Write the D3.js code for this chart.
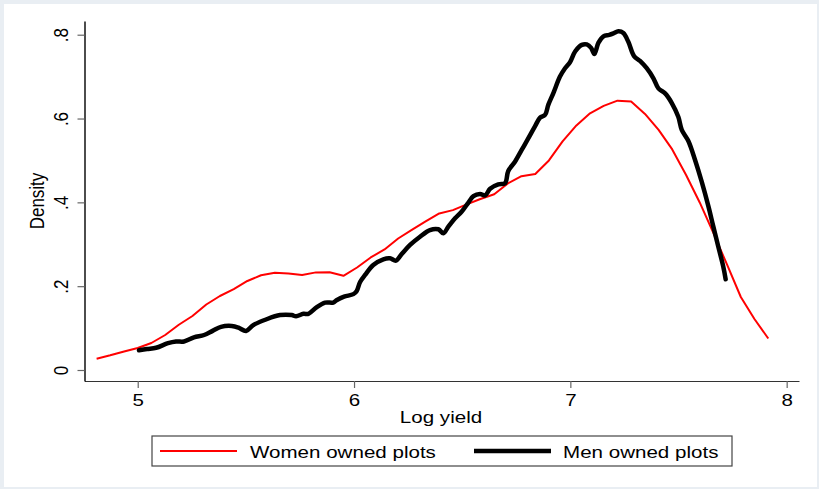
<!DOCTYPE html>
<html>
<head>
<meta charset="utf-8">
<script src="https://cdn.jsdelivr.net/npm/d3@7"></script>
<style>
  html, body { margin: 0; padding: 0; background: #e9eef3; }
  svg { display: block; font-family: "Liberation Sans", Arial, sans-serif; }
</style>
</head>
<body>
<svg id="chart" width="819" height="489"></svg>
<script>
// Kernel density of log yield, women vs men owned plots
const womenX = [4.810,4.873,4.937,5.000,5.063,5.127,5.190,5.253,5.317,5.380,
                5.444,5.507,5.570,5.634,5.697,5.760,5.824,5.887,5.951,6.014,
                6.077,6.141,6.204,6.267,6.331,6.394,6.457,6.521,6.584,6.648,
                6.711,6.774,6.838,6.901,6.964,7.028,7.091,7.154,7.218,7.281,
                7.345,7.408,7.471,7.535,7.598,7.661,7.725,7.788,7.851,7.915];
const womenY = [0.027,0.035,0.044,0.0525,0.0644,0.0835,0.1079,0.1289,0.1563,0.1766,
                0.1928,0.2124,0.226,0.232,0.2305,0.2267,0.2329,0.2334,0.2248,0.2446,
                0.2685,0.2876,0.3138,0.3341,0.3544,0.3735,0.3814,0.395,0.4081,0.4193,
                0.4451,0.4625,0.4678,0.500,0.5453,0.5835,0.6124,0.6301,0.6427,0.6406,
                0.611,0.5728,0.5263,0.4654,0.3998,0.327,0.2506,0.1742,0.1217,0.0752];

const menX = [5.006,5.043,5.085,5.140,5.177,5.214,5.260,5.307,5.348,5.385,
              5.435,5.466,5.501,5.534,5.593,5.658,5.712,5.732,5.766,5.789,
              5.828,5.866,5.904,5.921,5.954,5.997,6.0125,6.028,6.051,6.089,
              6.1355,6.166,6.194,6.2205,6.259,6.305,6.351,6.390,6.413,6.436,
              6.467,6.498,6.528,6.552,6.5825,6.606,6.629,6.667,6.698,6.713,
              6.744,6.775,6.806,6.837,6.860,6.883,6.898,6.921,6.952,6.9755,
              6.999,7.022,7.053,7.076,7.096,7.111,7.1295,7.153,7.180,7.199,
              7.222,7.245,7.268,7.2945,7.322,7.353,7.384,7.407,7.438,7.469,
              7.499,7.515,7.5455,7.5765,7.6075,7.638,7.661,7.684,7.707,7.718];
const menY = [0.047,0.050,0.053,0.064,0.068,0.068,0.078,0.0835,0.094,0.103,
              0.105,0.101,0.093,0.107,0.1205,0.131,0.131,0.128,0.134,0.134,
              0.150,0.1606,0.161,0.167,0.175,0.181,0.1885,0.210,0.2267,0.2506,
              0.2642,0.2666,0.2609,0.2768,0.2983,0.318,0.334,0.3358,0.3263,0.342,
              0.362,0.378,0.399,0.415,0.420,0.4165,0.4325,0.4427,0.4456,0.475,
              0.497,0.525,0.553,0.582,0.602,0.6086,0.6325,0.660,0.700,0.720,
              0.735,0.760,0.7757,0.7768,0.7685,0.754,0.7804,0.796,0.7995,0.803,
              0.808,0.804,0.783,0.749,0.7375,0.720,0.696,0.672,0.660,0.637,
              0.604,0.573,0.5465,0.501,0.4487,0.391,0.342,0.294,0.2465,0.2165];

const xTicks = [5, 6, 7, 8];
const yTicks = [0, 0.2, 0.4, 0.6, 0.8];
const yTickLabels = ["0", ".2", ".4", ".6", ".8"];
const seriesNames = ["Women owned plots", "Men owned plots"];
const seriesColors = ["#ff0000", "#000000"];

const svg = d3.select("#chart");
const W = 819, H = 489;
const stretch = 1.21; // horizontal text stretch

// page background and white graph region
svg.append("rect").attr("x", 4).attr("y", 4).attr("width", W - 6).attr("height", H - 6)
  .attr("fill", "#ffffff");

const x = d3.scaleLinear().domain([4.754, 8.057]).range([84.5, 799]);
const y = d3.scaleLinear().domain([-0.02625, 0.8327]).range([381, 21]);

// x axis
const gx = svg.append("g").attr("transform", "translate(0,381)")
  .call(d3.axisBottom(x).tickValues(xTicks).tickSize(7).tickSizeOuter(0).tickPadding(0)
    .tickFormat(d3.format("d")));
gx.select(".domain").attr("stroke", "#333").attr("stroke-width", 1.2);
gx.selectAll(".tick line").attr("stroke", "#666").attr("stroke-width", 1.2);
gx.selectAll(".tick text")
  .attr("y", null).attr("dy", null)
  .attr("transform", `translate(0,25) scale(${stretch},1)`)
  .attr("font-size", 17).attr("fill", "#000")
  .attr("font-family", "'Liberation Sans', Arial, sans-serif");

// y axis
const gy = svg.append("g").attr("transform", "translate(84.5,0)")
  .call(d3.axisLeft(y).tickValues(yTicks).tickSize(7).tickSizeOuter(0)
    .tickFormat((d, i) => yTickLabels[i]));
gy.select(".domain").attr("stroke", "#000").attr("stroke-width", 1.4);
gy.selectAll(".tick line").attr("stroke", "#666").attr("stroke-width", 1.2);
gy.selectAll(".tick text")
  .attr("x", null).attr("dy", null)
  .attr("text-anchor", "middle")
  .attr("transform", `translate(-16.5,0) scale(${stretch},1) rotate(-90)`)
  .attr("font-size", 17).attr("fill", "#000")
  .attr("font-family", "'Liberation Sans', Arial, sans-serif");

// axis titles
svg.append("text")
  .attr("transform", `translate(441,423) scale(${stretch},1)`)
  .attr("text-anchor", "middle").attr("font-size", 17).text("Log yield");
svg.append("text")
  .attr("transform", `translate(43.5,201) scale(${stretch},1) rotate(-90)`)
  .attr("text-anchor", "middle").attr("font-size", 17).text("Density");

// density curves
const line = d3.line().x(d => x(d[0])).y(d => y(d[1]));
const women = womenX.map((v, i) => [v, womenY[i]]);
const men = menX.map((v, i) => [v, menY[i]]);

svg.append("path").datum(women).attr("d", line)
  .attr("fill", "none").attr("stroke", seriesColors[0]).attr("stroke-width", 2)
  .attr("stroke-linejoin", "round");
svg.append("path").datum(men).attr("d", line.curve(d3.curveCatmullRom))
  .attr("fill", "none").attr("stroke", seriesColors[1]).attr("stroke-width", 4.5)
  .attr("stroke-linejoin", "round").attr("stroke-linecap", "round");

// legend
const lg = svg.append("g");
lg.append("rect").attr("x", 152).attr("y", 436).attr("width", 580).attr("height", 30)
  .attr("fill", "#fff").attr("stroke", "#444").attr("stroke-width", 1.2);
const legendItems = [
  { name: seriesNames[0], color: seriesColors[0], width: 2, x1: 160, x2: 237, tx: 250 },
  { name: seriesNames[1], color: seriesColors[1], width: 4.5, x1: 474, x2: 551, tx: 563 }
];
legendItems.forEach(it => {
  lg.append("line").attr("x1", it.x1).attr("x2", it.x2).attr("y1", 451).attr("y2", 451)
    .attr("stroke", it.color).attr("stroke-width", it.width);
  lg.append("text").attr("transform", `translate(${it.tx},457.5) scale(${stretch},1)`)
    .attr("font-size", 17).text(it.name);
});
</script>
</body>
</html>
